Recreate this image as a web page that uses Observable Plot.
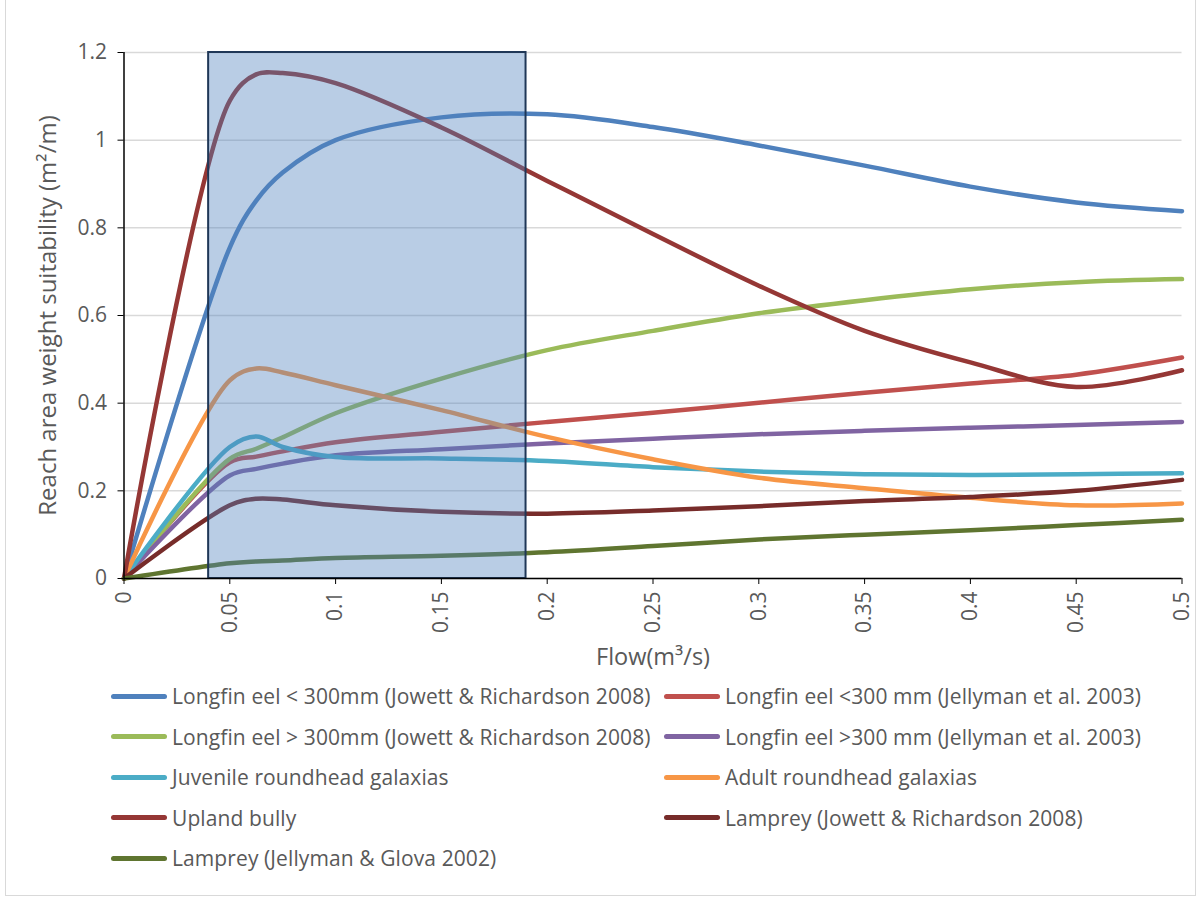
<!DOCTYPE html>
<html><head><meta charset="utf-8">
<script src="https://cdn.jsdelivr.net/npm/d3@7"></script>
<script src="https://cdn.jsdelivr.net/npm/@observablehq/plot@0.6"></script>
<style>
body{margin:0;background:#fff;font-family:"Open Sans",sans-serif;}
#wrap{position:relative;width:1203px;height:902px;overflow:hidden;background:#fff;}
#frame{position:absolute;left:5px;top:-2px;width:1191px;height:898px;border:1.5px solid #d9d9d9;box-sizing:border-box;}
#chart{position:absolute;left:0;top:0;}
.item{position:absolute;display:flex;align-items:center;font-size:21px;letter-spacing:0.1px;color:#595959;white-space:nowrap;height:26px;}
.sw{width:56px;height:5px;border-radius:3px;margin-right:5px;flex:none;}
</style></head><body>
<div id="wrap"><div id="frame"></div><div id="chart"></div><div id="legend"></div></div>
<script>
// ---- data ----
const flows = [0, 0.05, 0.0625, 0.075, 0.1, 0.15, 0.2, 0.25, 0.3, 0.35, 0.4, 0.45, 0.5];
const seriesNames = [
  "Longfin eel < 300mm (Jowett & Richardson 2008)",
  "Longfin eel <300 mm (Jellyman et al. 2003)",
  "Longfin eel > 300mm (Jowett & Richardson 2008)",
  "Longfin eel >300 mm (Jellyman et al. 2003)",
  "Juvenile roundhead galaxias",
  "Adult roundhead galaxias",
  "Upland bully",
  "Lamprey (Jowett & Richardson 2008)",
  "Lamprey (Jellyman & Glova 2002)"
];
const seriesColors = ["#4f81bd","#c0504d","#9bbb59","#8064a2","#4bacc6","#f79646","#953735","#772c2a","#5f7530"];
const longfinSmallJowett   = [0, 0.755, 0.862, 0.926, 1.0, 1.052, 1.059, 1.03, 0.988, 0.942, 0.894, 0.858, 0.838];
const longfinSmallJellyman = [0, 0.265, 0.278, 0.29, 0.311, 0.335, 0.357, 0.378, 0.401, 0.424, 0.445, 0.465, 0.504];
const longfinLargeJowett   = [0, 0.273, 0.296, 0.322, 0.377, 0.456, 0.521, 0.565, 0.605, 0.635, 0.66, 0.676, 0.683];
const longfinLargeJellyman = [0, 0.235, 0.25, 0.262, 0.281, 0.295, 0.308, 0.319, 0.329, 0.337, 0.344, 0.35, 0.357];
const juvenileGalaxias     = [0, 0.30, 0.324, 0.30, 0.277, 0.274, 0.268, 0.254, 0.244, 0.238, 0.236, 0.238, 0.24];
const adultGalaxias        = [0, 0.452, 0.479, 0.47, 0.441, 0.384, 0.323, 0.272, 0.23, 0.206, 0.184, 0.167, 0.171];
const uplandBully          = [0, 1.09, 1.15, 1.153, 1.13, 1.029, 0.907, 0.786, 0.668, 0.565, 0.493, 0.437, 0.475];
const lampreyJowett        = [0, 0.167, 0.182, 0.18, 0.167, 0.152, 0.148, 0.155, 0.165, 0.177, 0.186, 0.2, 0.225];
const lampreyGlova         = [0, 0.035, 0.039, 0.041, 0.047, 0.052, 0.06, 0.074, 0.089, 0.1, 0.11, 0.122, 0.134];
const seriesValues = [longfinSmallJowett, longfinSmallJellyman, longfinLargeJowett, longfinLargeJellyman,
  juvenileGalaxias, adultGalaxias, uplandBully, lampreyJowett, lampreyGlova];
const xTicks = [0, 0.05, 0.1, 0.15, 0.2, 0.25, 0.3, 0.35, 0.4, 0.45, 0.5];
const yTicks = [0, 0.2, 0.4, 0.6, 0.8, 1, 1.2];
const xDomain = [0, 0.5];
const yDomain = [0, 1.2];
const highlight = [0.04, 0.19];
const xLabel = "Flow(m³/s)";
const yLabel = "Reach area weight suitability (m²/m)";

// ---- table ----
const rows = [];
seriesNames.forEach((name, i) => {
  flows.forEach((f, j) => rows.push({series: name, flow: f, value: seriesValues[i][j]}));
});

const H = 680;
const chart = Plot.plot({
  width: 1203, height: H,
  marginLeft: 123.5, marginRight: 21.5, marginTop: 52, marginBottom: H - 578,
  style: {fontFamily: "Open Sans", fontSize: "20px", color: "#595959", background: "transparent"},
  x: {domain: xDomain},
  y: {domain: yDomain},
  color: {domain: seriesNames, range: seriesColors},
  marks: [
    Plot.gridY(yTicks, {stroke: "#d9d9d9", strokeOpacity: 1, strokeWidth: 1.5}),
    Plot.line(rows, {x: "flow", y: "value", z: "series", stroke: "series", strokeWidth: 4.5,
      curve: "catmull-rom", strokeLinecap: "round", strokeLinejoin: "round"}),
    Plot.rect([highlight], {x1: d => d[0], x2: d => d[1], y1: yDomain[0], y2: yDomain[1],
      fill: "#4f81bd", fillOpacity: 0.4, stroke: "#1f3757", strokeWidth: 2}),
    Plot.ruleY([0], {stroke: "black", strokeWidth: 1.5}),
    Plot.ruleX([0], {stroke: "black", strokeWidth: 1.5}),
    Plot.axisY({ticks: yTicks, tickFormat: d => String(d), tickSize: 6, tickPadding: 11, fontSize: 21,
      stroke: "black", fill: "#595959", label: null}),
    Plot.axisX({ticks: xTicks, tickFormat: d => String(d), tickSize: 6, tickPadding: 7, tickRotate: -90, fontSize: 21,
      stroke: "black", fill: "#595959", label: null}),
    Plot.text([yLabel], {frameAnchor: "left", dx: -76, rotate: -90, textAnchor: "middle", fontSize: 24, fill: "#595959"}),
    Plot.text([xLabel], {frameAnchor: "bottom", dy: 86, fontSize: 23.5, fill: "#595959"})
  ]
});
document.getElementById("chart").appendChild(chart);

// ---- legend ----
const legend = document.getElementById("legend");
const colLeft = [111, 664];
seriesNames.forEach((name, i) => {
  const row = Math.floor(i / 2), col = i % 2;
  const it = document.createElement("div");
  it.className = "item";
  it.style.left = colLeft[col] + "px";
  it.style.top = (683 + row * 40.5) + "px";
  const sw = document.createElement("div");
  sw.className = "sw";
  sw.style.background = seriesColors[i];
  const tx = document.createElement("span");
  tx.textContent = name;
  it.appendChild(sw); it.appendChild(tx);
  legend.appendChild(it);
});
</script>
</body></html>
